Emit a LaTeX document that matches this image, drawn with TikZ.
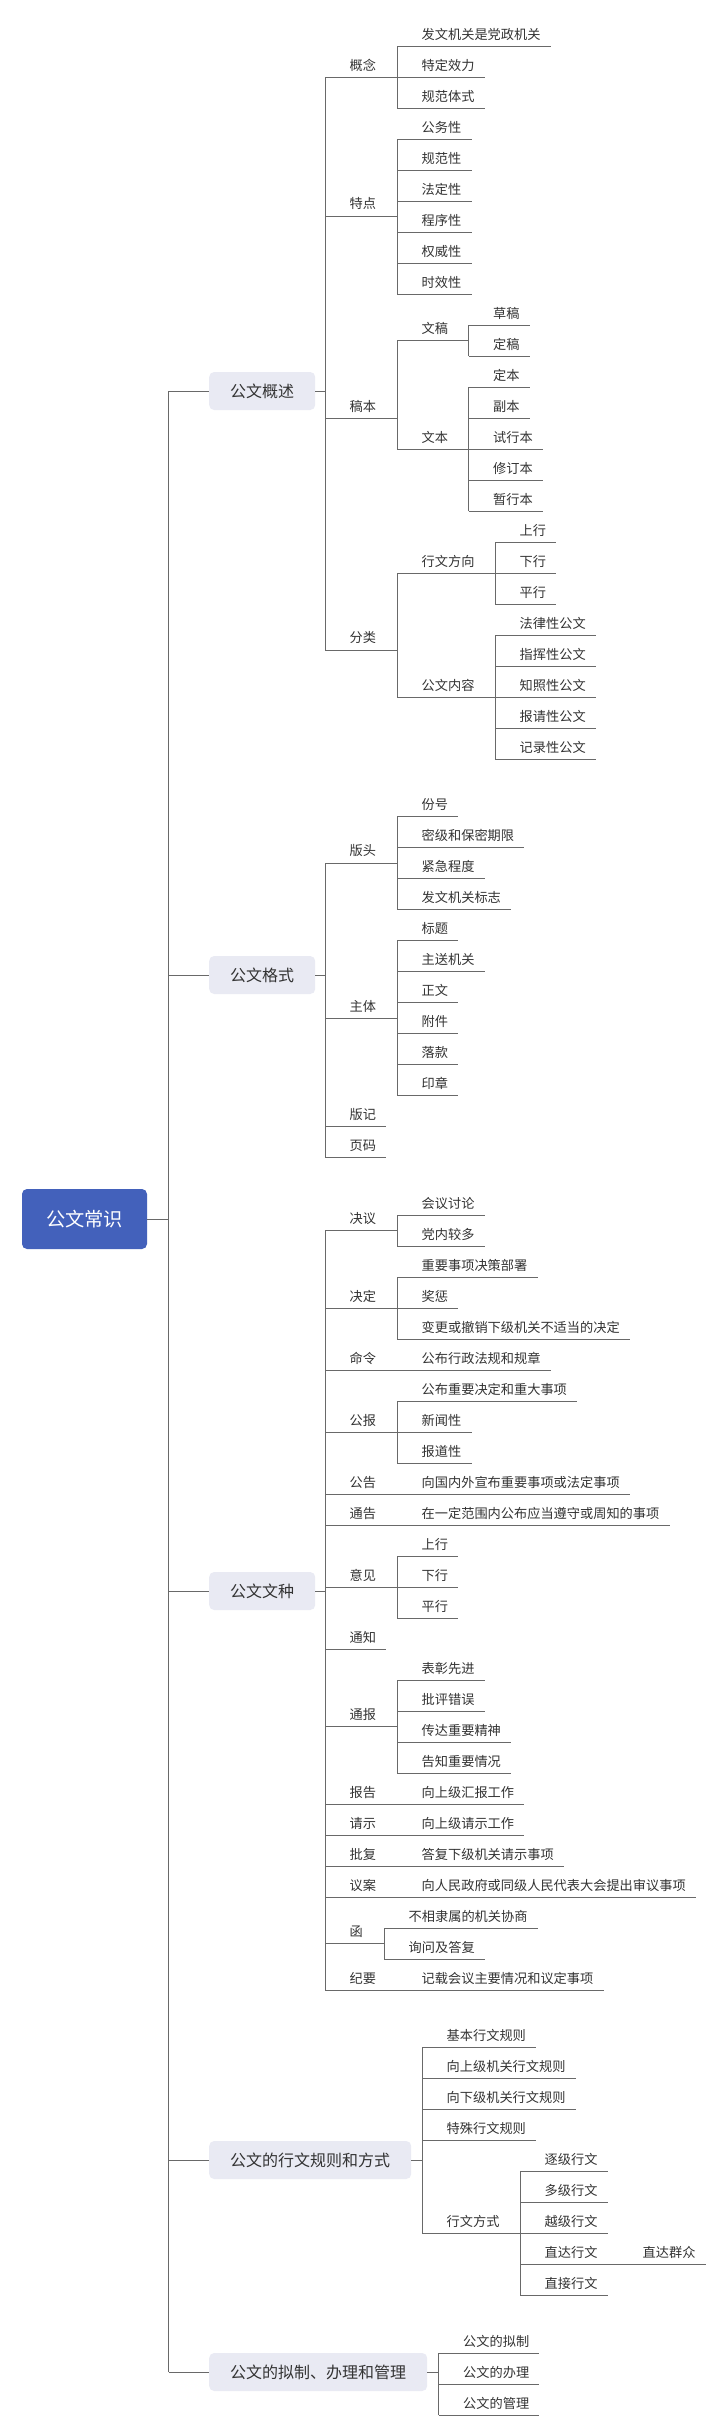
\documentclass[tikz,border=0pt]{standalone}
\usepackage{fontspec}
\setmainfont{Noto Sans CJK SC}
\definecolor{lncol}{RGB}{105,105,105}
\definecolor{txtcol}{RGB}{51,51,51}
\definecolor{boxfill}{RGB}{233,234,243}
\definecolor{rootfill}{RGB}{67,97,187}
\tikzset{
  conn/.style={draw=lncol, line width=0.9pt},
  leafnode/.style={anchor=south west, inner sep=0pt, minimum height=24pt, text=txtcol,
    font=\fontsize{13.2}{14}\selectfont, text height=11.6pt, text depth=1.6pt},
  topic/.style={anchor=west, fill=boxfill, rounded corners=5pt, inner xsep=21pt, inner ysep=0pt,
    minimum height=38pt, text=txtcol, font=\fontsize{16}{18}\selectfont, text height=14.1pt, text depth=1.9pt},
  rootnode/.style={fill=rootfill, rounded corners=5pt, inner xsep=24pt, inner ysep=0pt,
    minimum height=60pt, text=white, font=\fontsize{19.25}{22}\selectfont, text height=17pt, text depth=2.3pt}
}
\newcommand\nd[4]{\node[leafnode] (#1) at (#2,#3) {\hspace*{24.5pt}#4\hspace*{10pt}};
  \draw[conn] (#1.south west) -- (#1.south east);}
\newcommand\kids[3]{\draw[conn] (#1.south east) -- (#1.south east -| #2.south west);
  \draw[conn] (#2.south west) -- (#3.south west);}
\newcommand\boxkids[3]{\draw[conn] (#1.east) -- (#1.east -| #2.south west);
  \draw[conn] (#2.south west) -- (#3.south west);}
\begin{document}
\begin{tikzpicture}[x=1pt,y=-1pt]
\fill[white] (0,0) rectangle (718,2436);
\useasboundingbox (0,0) rectangle (718,2436);
% root and trunk
\node[rootnode] (root) at (84.5,1219) {公文常识};
\node[topic] (b1) at (209,391) {公文概述};
\node[topic] (b2) at (209,975) {公文格式};
\node[topic] (b3) at (209,1591) {公文文种};
\node[topic] (b4) at (209,2160) {公文的行文规则和方式};
\node[topic] (b5) at (209,2372) {公文的拟制、办理和管理};
\coordinate (T) at (168.5,0);
\draw[conn] (root.east) -- (root.east -| T);
\draw[conn] (b1.west -| T) -- (b5.west -| T);
\foreach \b in {b1,b2,b3,b4,b5} {\draw[conn] (\b.west -| T) -- (\b.west);}
% ===== Branch 1 =====
\nd{a1}{325}{77.3}{概念}
\nd{a2}{325}{216}{特点}
\nd{a3}{325}{418.3}{稿本}
\nd{a4}{325}{650}{分类}
\boxkids{b1}{a1}{a4}
\nd{a11}{397}{46.7}{发文机关是党政机关}
\nd{a12}{397}{77.3}{特定效力}
\nd{a13}{397}{108.3}{规范体式}
\kids{a1}{a11}{a13}
\nd{a21}{397}{139.3}{公务性}
\nd{a22}{397}{170.3}{规范性}
\nd{a23}{397}{201.3}{法定性}
\nd{a24}{397}{232.3}{程序性}
\nd{a25}{397}{263.3}{权威性}
\nd{a26}{397}{294.3}{时效性}
\kids{a2}{a21}{a26}
\nd{a31}{397}{340.3}{文稿}
\nd{a32}{397}{449.3}{文本}
\kids{a3}{a31}{a32}
\nd{a311}{468.5}{325.3}{草稿}
\nd{a312}{468.5}{356.3}{定稿}
\kids{a31}{a311}{a312}
\nd{a321}{468.5}{387.3}{定本}
\nd{a322}{468.5}{418.3}{副本}
\nd{a323}{468.5}{449.3}{试行本}
\nd{a324}{468.5}{480.3}{修订本}
\nd{a325}{468.5}{511.3}{暂行本}
\kids{a32}{a321}{a325}
\nd{a41}{397}{573.3}{行文方向}
\nd{a42}{397}{697.3}{公文内容}
\kids{a4}{a41}{a42}
\nd{a411}{495}{542.3}{上行}
\nd{a412}{495}{573.3}{下行}
\nd{a413}{495}{604.3}{平行}
\kids{a41}{a411}{a413}
\nd{a421}{495}{635.3}{法律性公文}
\nd{a422}{495}{666.3}{指挥性公文}
\nd{a423}{495}{697.3}{知照性公文}
\nd{a424}{495}{728.3}{报请性公文}
\nd{a425}{495}{759.3}{记录性公文}
\kids{a42}{a421}{a425}
% ===== Branch 2 =====
\nd{c1}{325}{863}{版头}
\nd{c2}{325}{1018.3}{主体}
\nd{c3}{325}{1126.3}{版记}
\nd{c4}{325}{1157.3}{页码}
\boxkids{b2}{c1}{c4}
\nd{c11}{397}{816.3}{份号}
\nd{c12}{397}{847.3}{密级和保密期限}
\nd{c13}{397}{878.3}{紧急程度}
\nd{c14}{397}{909.3}{发文机关标志}
\kids{c1}{c11}{c14}
\nd{c21}{397}{940.3}{标题}
\nd{c22}{397}{971.3}{主送机关}
\nd{c23}{397}{1002.3}{正文}
\nd{c24}{397}{1033.3}{附件}
\nd{c25}{397}{1064.3}{落款}
\nd{c26}{397}{1095.3}{印章}
\kids{c2}{c21}{c26}
% ===== Branch 3 =====
\nd{d1}{325}{1230.3}{决议}
\nd{d2}{325}{1308.3}{决定}
\nd{d3}{325}{1370.3}{命令}
\nd{d4}{325}{1432.3}{公报}
\nd{d5}{325}{1494.3}{公告}
\nd{d6}{325}{1525.3}{通告}
\nd{d7}{325}{1587.3}{意见}
\nd{d8}{325}{1649.3}{通知}
\nd{d9}{325}{1726.3}{通报}
\nd{d10}{325}{1804.3}{报告}
\nd{d11}{325}{1835.3}{请示}
\nd{d12}{325}{1866.3}{批复}
\nd{d13}{325}{1897.3}{议案}
\nd{d14}{325}{1943.3}{函}
\nd{d15}{325}{1990.3}{纪要}
\boxkids{b3}{d1}{d15}
\nd{d1a}{397}{1215.3}{会议讨论}
\nd{d1b}{397}{1246.3}{党内较多}
\kids{d1}{d1a}{d1b}
\nd{d2a}{397}{1277.3}{重要事项决策部署}
\nd{d2b}{397}{1308.3}{奖惩}
\nd{d2c}{397}{1339.3}{变更或撤销下级机关不适当的决定}
\kids{d2}{d2a}{d2c}
\nd{d3a}{397}{1370.3}{公布行政法规和规章}
\kids{d3}{d3a}{d3a}
\nd{d4a}{397}{1401.3}{公布重要决定和重大事项}
\nd{d4b}{397}{1432.3}{新闻性}
\nd{d4c}{397}{1463.3}{报道性}
\kids{d4}{d4a}{d4c}
\nd{d5a}{397}{1494.3}{向国内外宣布重要事项或法定事项}
\kids{d5}{d5a}{d5a}
\nd{d6a}{397}{1525.3}{在一定范围内公布应当遵守或周知的事项}
\kids{d6}{d6a}{d6a}
\nd{d7a}{397}{1556.3}{上行}
\nd{d7b}{397}{1587.3}{下行}
\nd{d7c}{397}{1618.3}{平行}
\kids{d7}{d7a}{d7c}
\nd{d9a}{397}{1680.3}{表彰先进}
\nd{d9b}{397}{1711.3}{批评错误}
\nd{d9c}{397}{1742.3}{传达重要精神}
\nd{d9d}{397}{1773.3}{告知重要情况}
\kids{d9}{d9a}{d9d}
\nd{d10a}{397}{1804.3}{向上级汇报工作}
\kids{d10}{d10a}{d10a}
\nd{d11a}{397}{1835.3}{向上级请示工作}
\kids{d11}{d11a}{d11a}
\nd{d12a}{397}{1866.3}{答复下级机关请示事项}
\kids{d12}{d12a}{d12a}
\nd{d13a}{397}{1897.3}{向人民政府或同级人民代表大会提出审议事项}
\kids{d13}{d13a}{d13a}
\nd{d14a}{384}{1928.3}{不相隶属的机关协商}
\nd{d14b}{384}{1959.3}{询问及答复}
\kids{d14}{d14a}{d14b}
\nd{d15a}{397}{1990.3}{记载会议主要情况和议定事项}
\kids{d15}{d15a}{d15a}
% ===== Branch 4 =====
\nd{e1}{422}{2047.3}{基本行文规则}
\nd{e2}{422}{2078.3}{向上级机关行文规则}
\nd{e3}{422}{2109.3}{向下级机关行文规则}
\nd{e4}{422}{2140.3}{特殊行文规则}
\nd{e5}{422}{2233.3}{行文方式}
\boxkids{b4}{e1}{e5}
\nd{e51}{520}{2171.3}{逐级行文}
\nd{e52}{520}{2202.3}{多级行文}
\nd{e53}{520}{2233.3}{越级行文}
\nd{e54}{520}{2264.3}{直达行文}
\nd{e55}{520}{2295.3}{直接行文}
\kids{e5}{e51}{e55}
\nd{e541}{618}{2264.3}{直达群众}
\kids{e54}{e541}{e541}
% ===== Branch 5 =====
\nd{f1}{438.5}{2353.3}{公文的拟制}
\nd{f2}{438.5}{2384.3}{公文的办理}
\nd{f3}{438.5}{2415.3}{公文的管理}
\boxkids{b5}{f1}{f3}
\end{tikzpicture}
\end{document}
